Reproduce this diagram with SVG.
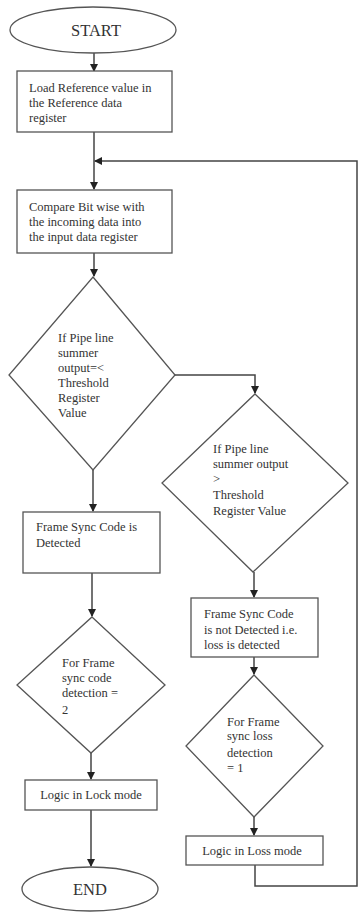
<svg xmlns="http://www.w3.org/2000/svg" width="360" height="912" viewBox="0 0 360 912">
<defs>
<style>
.n{fill:#fff;stroke:#555;stroke-width:1.3}
.t{font-family:"Liberation Serif","Times New Roman",serif;font-size:12.5px;fill:#333}
.tt{font-family:"Liberation Serif","Times New Roman",serif;font-size:16.5px;fill:#333}
.c{fill:none;stroke:#444;stroke-width:1.5}
</style>
<marker id="ah" markerWidth="8" markerHeight="8" refX="7" refY="4" orient="auto" markerUnits="userSpaceOnUse">
<path d="M0,0 L8,4 L0,8 Z" fill="#222"/>
</marker>
</defs>
<rect width="360" height="912" fill="#fff"/>
<g id="connectors">
<path class="c" d="M94,53 V71" marker-end="url(#ah)"/>
<path class="c" d="M94,132 V189" marker-end="url(#ah)"/>
<path class="c" d="M94,253 V276" marker-end="url(#ah)"/>
<path class="c" d="M93,470 V511" marker-end="url(#ah)"/>
<path class="c" d="M175,375 H255 V393" marker-end="url(#ah)"/>
<path class="c" d="M92,573 V616" marker-end="url(#ah)"/>
<path class="c" d="M91,753 V779" marker-end="url(#ah)"/>
<path class="c" d="M91,810 V866" marker-end="url(#ah)"/>
<path class="c" d="M254,572 V597" marker-end="url(#ah)"/>
<path class="c" d="M254,657 V674" marker-end="url(#ah)"/>
<path class="c" d="M254,817 V835" marker-end="url(#ah)"/>
<path class="c" d="M255,865 V886 H357 V161 H95" marker-end="url(#ah)"/>
</g>
<g id="start">
<ellipse class="n" cx="93" cy="30" rx="83" ry="23"/>
<text class="tt" x="96" y="36" text-anchor="middle">START</text>
</g>
<g id="load">
<rect class="n" x="17" y="71" width="155" height="61"/>
<text class="t" x="29" y="92">Load Reference value in</text>
<text class="t" x="29" y="107">the Reference data</text>
<text class="t" x="29" y="122">register</text>
</g>
<g id="compare">
<rect class="n" x="17" y="190" width="155" height="63"/>
<text class="t" x="29" y="211">Compare Bit wise with</text>
<text class="t" x="29" y="226">the incoming data into</text>
<text class="t" x="29" y="241">the input data register</text>
</g>
<g id="cond1">
<polygon class="n" points="93,277 175,375 93,470 9,375"/>
<text class="t" x="58" y="342">If Pipe line</text>
<text class="t" x="58" y="357">summer</text>
<text class="t" x="58" y="372">output=&lt;</text>
<text class="t" x="58" y="387">Threshold</text>
<text class="t" x="58" y="402">Register</text>
<text class="t" x="58" y="417">Value</text>
</g>
<g id="cond2">
<polygon class="n" points="255,394 348,483 253,572 162,483"/>
<text class="t" x="213" y="453">If Pipe line</text>
<text class="t" x="213" y="468">summer output</text>
<text class="t" x="213" y="483">&gt;</text>
<text class="t" x="213" y="499">Threshold</text>
<text class="t" x="213" y="515">Register Value</text>
</g>
<g id="detected">
<rect class="n" x="23" y="512" width="137" height="61"/>
<text class="t" x="36" y="531">Frame Sync Code is</text>
<text class="t" x="36" y="547">Detected</text>
</g>
<g id="notdetected">
<rect class="n" x="191" y="598" width="127" height="59"/>
<text class="t" x="204" y="618">Frame Sync Code</text>
<text class="t" x="204" y="634">is not Detected i.e.</text>
<text class="t" x="204" y="649">loss is detected</text>
</g>
<g id="cond3">
<polygon class="n" points="92,617 165,685 91,753 17,685"/>
<text class="t" x="62" y="667">For Frame</text>
<text class="t" x="62" y="682">sync code</text>
<text class="t" x="62" y="697">detection =</text>
<text class="t" x="62" y="714">2</text>
</g>
<g id="cond4">
<polygon class="n" points="254,675 323,746 254,817 186,746"/>
<text class="t" x="227" y="726">For Frame</text>
<text class="t" x="227" y="740">sync loss</text>
<text class="t" x="227" y="757">detection</text>
<text class="t" x="227" y="772">= 1</text>
</g>
<g id="lock">
<rect class="n" x="25" y="780" width="132" height="30"/>
<text class="t" x="91" y="799" text-anchor="middle">Logic in Lock mode</text>
</g>
<g id="loss">
<rect class="n" x="186" y="836" width="137" height="29"/>
<text class="t" x="252" y="855" text-anchor="middle">Logic in Loss mode</text>
</g>
<g id="end">
<ellipse class="n" cx="90" cy="889" rx="68" ry="22"/>
<text class="tt" x="90" y="895" text-anchor="middle">END</text>
</g>
</svg>
